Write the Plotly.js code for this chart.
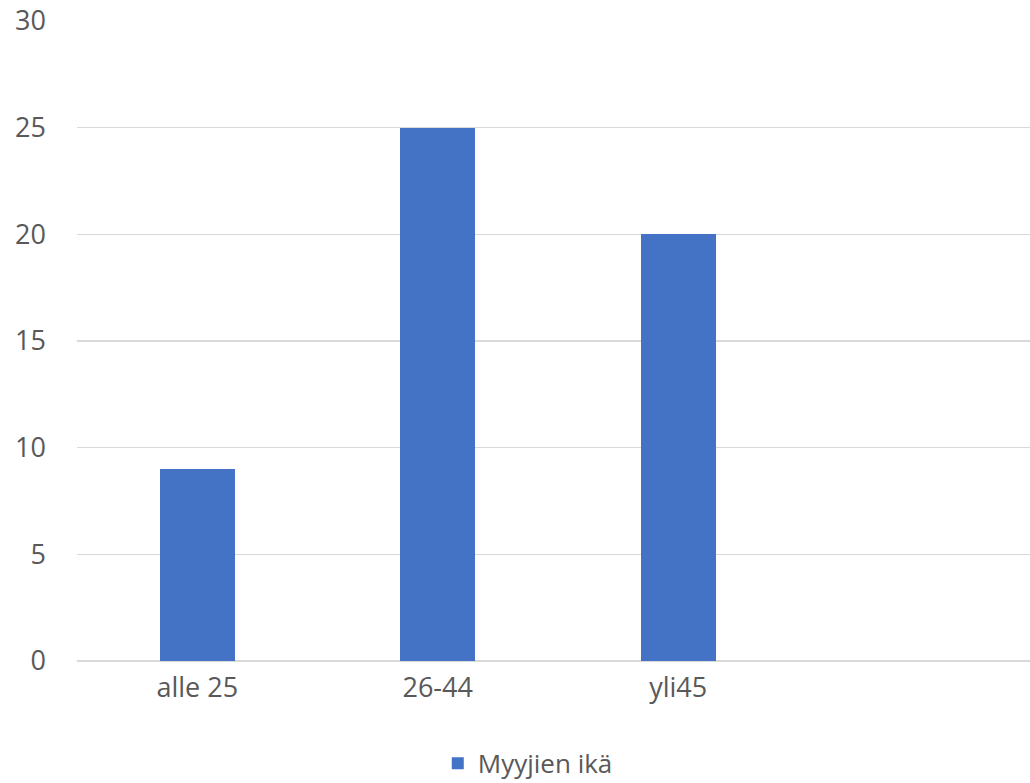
<!DOCTYPE html>
<html><head><meta charset="utf-8">
<script src="https://cdn.plot.ly/plotly-3.0.1.min.js"></script>
<style>html,body{margin:0;padding:0;background:#fff}</style>
</head><body>
<div id="chart" style="width:1030px;height:783px"></div>
<script>
const categories = ["alle 25", "26-44", "yli45"];
const values = [9, 25, 20];
const seriesName = "Myyjien ikä";
const yTicks = [0, 5, 10, 15, 20, 25, 30];

const trace = {
  type: "bar",
  x: categories,
  y: values,
  name: seriesName,
  marker: {color: "#4472C4"},
  width: 0.312,
  showlegend: true,
  hoverinfo: "x+y"
};

const layout = {
  width: 1030, height: 783,
  margin: {l: 77, r: 0, t: 21, b: 122, autoexpand: false},
  paper_bgcolor: "#fff", plot_bgcolor: "#fff",
  font: {family: "Open Sans, Liberation Sans, sans-serif", color: "#595959", size: 25},
  xaxis: {
    type: "category",
    range: [-0.5, 3.463],
    showgrid: false, zeroline: false, showline: false,
    ticks: "", tickfont: {size: 27, color: "#595959"},
    ticklabelstandoff: 8,
    automargin: false
  },
  yaxis: {
    range: [0, 30],
    tickvals: yTicks,
    showgrid: true, gridcolor: "#d9d9d9", gridwidth: 1.5,
    zeroline: true, zerolinecolor: "#d9d9d9", zerolinewidth: 1.5,
    showline: false, ticks: "",
    tickfont: {size: 27, color: "#595959"},
    ticklabelstandoff: 30,
    automargin: false
  },
  legend: {
    orientation: "h", x: 0.473, xanchor: "center",
    yref: "container", y: 0.025, yanchor: "middle",
    font: {size: 26, color: "#595959"}
  },
  bargap: 0
};

Plotly.newPlot("chart", [trace], layout, {displayModeBar: false, staticPlot: true});
</script>
</body></html>
